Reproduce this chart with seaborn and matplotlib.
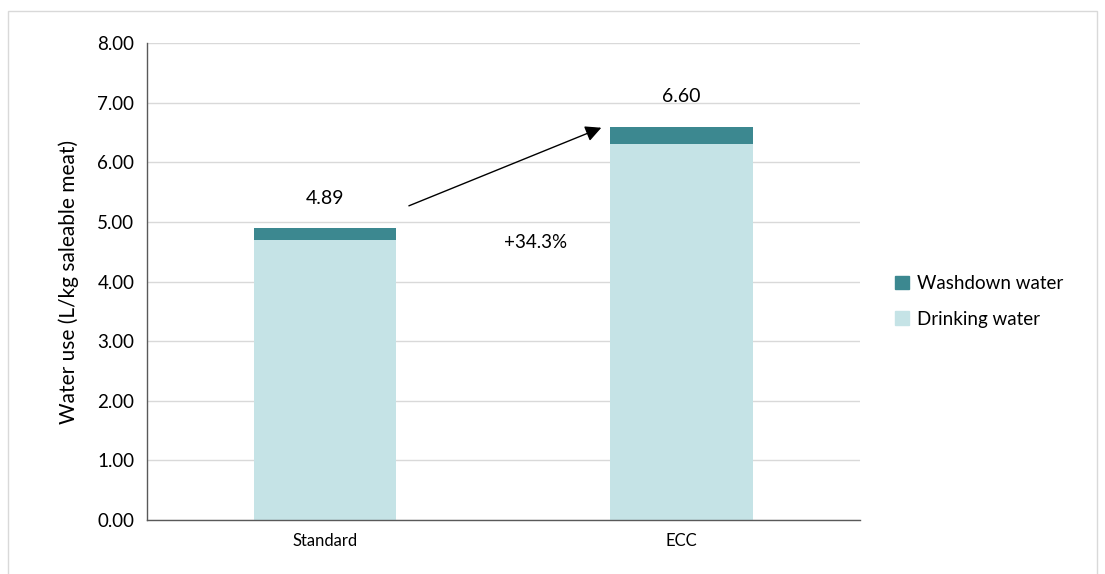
import pandas as pd
import matplotlib.pyplot as plt
import matplotlib.patches as mpatches
import seaborn as sns

# Values
scenarios = ["Standard", "ECC"]
drinking = [4.69, 6.30]
washdown = [0.20, 0.30]
totals = [4.89, 6.60]
change_label = "+34.3%"

df = pd.DataFrame({"scenario": scenarios, "drinking": drinking, "washdown": washdown})
df["total"] = df["drinking"] + df["washdown"]

sns.set_style("white")
plt.rcParams["font.family"] = ["Lato", "DejaVu Sans"]
plt.rcParams["text.color"] = "black"
plt.rcParams["axes.labelcolor"] = "black"
plt.rcParams["xtick.color"] = "black"
plt.rcParams["ytick.color"] = "black"

c_wash = "#3C8890"
c_drink = "#C5E3E6"

fig = plt.figure(figsize=(11.05, 5.74), dpi=100)
ax = fig.add_axes([0.133, 0.094, 0.645, 0.831])

# stacked: total bars underneath, drinking on top
sns.barplot(x="scenario", y="total", data=df, color=c_wash, width=0.4, ax=ax,
            saturation=1, linewidth=0)
sns.barplot(x="scenario", y="drinking", data=df, color=c_drink, width=0.4, ax=ax,
            saturation=1, linewidth=0)

ax.set_xlim(-0.5, 1.5)
ax.set_ylim(0, 8)
ax.set_yticks([i for i in range(9)])
ax.set_yticklabels([f"{i:.2f}" for i in range(9)], fontsize=13.5)
ax.tick_params(axis="x", labelsize=12, length=0, pad=9)
ax.tick_params(axis="y", length=0, pad=9)
ax.set_xlabel("")
ax.set_ylabel("Water use (L/kg saleable meat)", fontsize=15, labelpad=13)

ax.grid(axis="y", color="#D9D9D9", linewidth=1)
ax.set_axisbelow(True)
for s in ["top", "right"]:
    ax.spines[s].set_visible(False)
for s in ["left", "bottom"]:
    ax.spines[s].set_color("#595959")
    ax.spines[s].set_linewidth(1)

# value labels
for i, t in enumerate(totals):
    ax.text(i, t + 0.5, f"{t:.2f}", ha="center", va="center", fontsize=14)

# arrow and change label
ax.annotate("", xy=(0.775, 6.58), xytext=(0.235, 5.27),
            arrowprops=dict(arrowstyle="-|>", color="black", lw=1, mutation_scale=24,
                            shrinkA=0, shrinkB=0))
ax.text(0.59, 4.65, change_label, ha="center", va="center", fontsize=13.5)

handles = [mpatches.Patch(color=c_wash, label="Washdown water"),
           mpatches.Patch(color=c_drink, label="Drinking water")]
fig.legend(handles=handles, loc="center left", bbox_to_anchor=(0.795, 0.475),
           frameon=False, fontsize=13.5, handlelength=0.75, handleheight=0.75,
           handletextpad=0.4, labelspacing=1.0)

# outer chart border
fig.patches.append(mpatches.Rectangle((0.007, -0.01), 0.986, 0.99, transform=fig.transFigure,
                                      fill=False, edgecolor="#D9D9D9", lw=1))

plt.savefig("out.png", dpi=100)
